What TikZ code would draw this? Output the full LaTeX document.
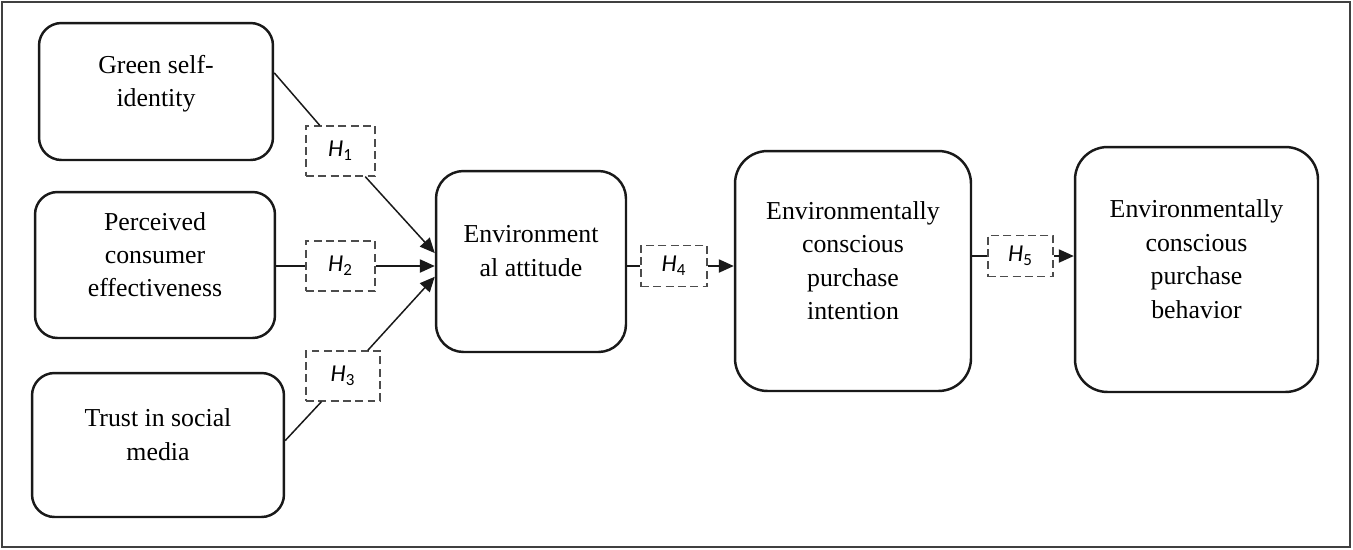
\documentclass[tikz,border=0pt]{standalone}
\usepackage{fontspec}
\setmainfont{Liberation Serif}
\newfontfamily\hfont{Carlito}
\usetikzlibrary{positioning,calc,arrows.meta}

\newcommand{\hyp}[1]{{\hfont\itshape H}\textsubscript{\hfont #1}}

\begin{document}
\begin{tikzpicture}[x=0.02cm,y=-0.02cm,
    font=\fontsize{14.7}{19}\selectfont,
    varbox/.style={draw=black!90, line width=1.4pt, rounded corners=0.45cm, align=center, text depth=12pt, inner sep=0pt},
    bigbox/.style={varbox, rounded corners=0.65cm},
    hbox/.style={draw=black!70, line width=0.75pt, dash pattern=on 4.5pt off 2.5pt, inner sep=0pt, font=\fontsize{13.8}{15}\selectfont},
    link/.style={line width=0.85pt, black!90},
    arr/.style={link, -{Triangle[length=8.5pt,width=7.5pt]}}]
    \useasboundingbox (0,0) rectangle (1353,549);
    \draw[line width=1.1pt, black!75] (2,2) rectangle (1350,547);

    % constructs
    \node[varbox, minimum width=4.68cm, minimum height=2.74cm] (gsi) at (156,91.5) {Green self-\\identity};
    \node[varbox, minimum width=4.8cm, minimum height=2.92cm] (gpce) at (155,265) {Perceived\\consumer\\effectiveness};
    \node[varbox, minimum width=5.04cm, minimum height=2.88cm] (tsm) at (158,445) {Trust in social\\media};
    \node[varbox, rounded corners=0.55cm, minimum width=3.8cm, minimum height=3.62cm] (ea) at (531,261.5) {Environment\\al attitude};
    \node[bigbox, minimum width=4.72cm, minimum height=4.8cm] (eci) at (853,271) {Environmentally\\conscious\\purchase\\intention};
    \node[bigbox, minimum width=4.86cm, minimum height=4.9cm] (ecb) at (1196.5,269.5) {Environmentally\\conscious\\purchase\\behavior};

    % hypotheses
    \node[hbox, minimum width=1.38cm, minimum height=1cm] (h1) at (340.5,151) {\hyp{1}};
    \node[hbox, minimum width=1.38cm, minimum height=1cm] (h2) at (340.5,266) {\hyp{2}};
    \node[hbox, minimum width=1.48cm, minimum height=1cm] (h3) at (343,376) {\hyp{3}};
    \node[hbox, minimum width=1.32cm, minimum height=0.82cm] (h4) at (674,266) {\hyp{4}};
    \node[hbox, minimum width=1.3cm, minimum height=0.82cm] (h5) at (1020.5,256) {\hyp{5}};

    \draw[link] (gsi.9) -- (h1.129);
    \draw[arr] (h1.-46) -- (ea.175);
    \draw[link] (gpce.east |- h2.west) -- (h2.west);
    \draw[arr] (h2.east) -- (ea.west |- h2.east);
    \draw[link] (tsm.2) -- (h3.230);
    \draw[arr] (h3.46) -- (ea.189);
    \draw[link] (ea.east |- h4.west) -- (h4.west);
    \draw[arr] (h4.east) -- (eci.west |- h4.east);
    \draw[link] (eci.east |- h5.west) -- (h5.west);
    \draw[arr] (h5.east) -- (ecb.west |- h5.east);
\end{tikzpicture}
\end{document}
